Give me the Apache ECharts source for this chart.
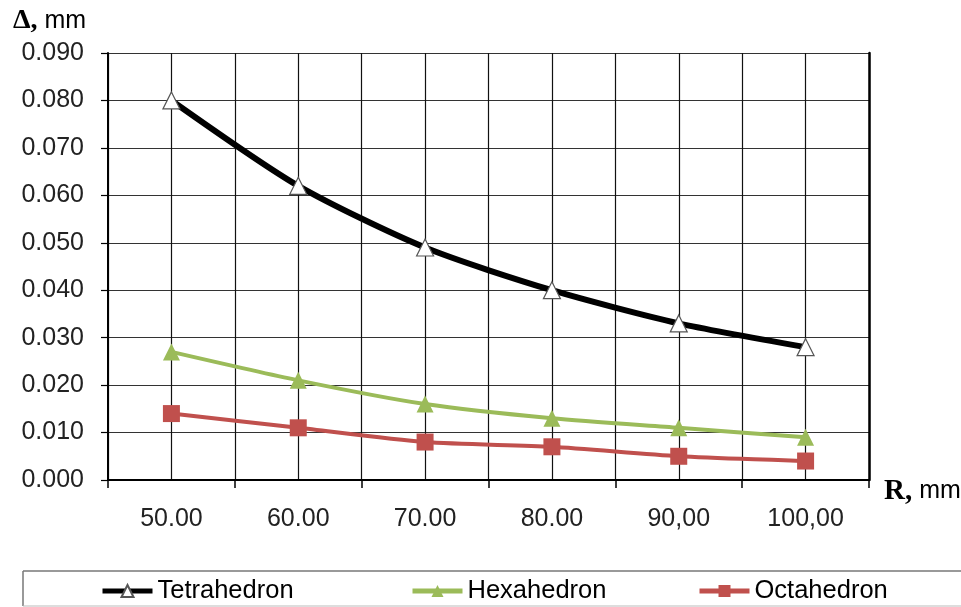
<!DOCTYPE html>
<html>
<head>
<meta charset="utf-8">
<script src="https://cdn.jsdelivr.net/npm/echarts@6/dist/echarts.min.js"></script>
<style>
html,body{margin:0;padding:0;background:#fff;}
#c{width:961px;height:607px;}
</style>
</head>
<body>
<div id="c"></div>
<script>
const categories = ["50.00", "60.00", "70.00", "80.00", "90,00", "100,00"];
const tetrahedron = [0.080, 0.062, 0.049, 0.040, 0.033, 0.028];
const hexahedron = [0.027, 0.021, 0.016, 0.013, 0.011, 0.009];
const octahedron = [0.014, 0.011, 0.008, 0.007, 0.005, 0.004];
const yTicks = {min: 0, max: 0.09, interval: 0.01};

const SANS = "'Liberation Sans', Arial, sans-serif";
const SERIF = "'Liberation Serif', 'Times New Roman', serif";

const chart = echarts.init(document.getElementById('c'), null, {renderer: 'canvas'});

function legendCfg(name, left, lw) {
  return {
    data: [{name: name, lineStyle: {width: lw}}], left: left, top: 578, orient: 'horizontal',
    itemWidth: 50, itemHeight: 15, itemGap: 0, padding: 0,
    textStyle: {fontFamily: SANS, fontSize: 25.5, color: '#000'}
  };
}

chart.setOption({
  animation: false,
  backgroundColor: '#fff',
  grid: {left: 108, right: 92, top: 53, bottom: 127, containLabel: false},
  title: {
    left: 8, top: 2,
    text: '{a|Δ,}{b| mm}',
    textStyle: {
      fontWeight: 'normal',
      rich: {
        a: {fontFamily: SERIF, fontWeight: 'bold', fontSize: 28, color: '#000'},
        b: {fontFamily: SANS, fontWeight: 'normal', fontSize: 25, color: '#000'}
      }
    }
  },
  legend: [legendCfg('Tetrahedron', 100, 5), legendCfg('Hexahedron', 410, 5), legendCfg('Octahedron', 697, 5)],
  graphic: [
    {type: 'line', shape: {x1: 23, y1: 571, x2: 961, y2: 571}, style: {stroke: '#777', lineWidth: 1.5}},
    {type: 'line', shape: {x1: 23, y1: 571, x2: 23, y2: 606}, style: {stroke: '#777', lineWidth: 1.5}},
    {type: 'line', shape: {x1: 23, y1: 606, x2: 961, y2: 606}, style: {stroke: '#bbb', lineWidth: 1}},
    {
      type: 'text', left: 884, top: 477,
      style: {
        text: '{a|R,}{b| mm}',
        rich: {
          a: {fontFamily: SERIF, fontWeight: 'bold', fontSize: 29, fill: '#000'},
          b: {fontFamily: SANS, fontSize: 25, fill: '#000'}
        }
      }
    }
  ],
  xAxis: [
    {
      type: 'category', data: categories, boundaryGap: true, position: 'bottom',
      axisLine: {show: true, lineStyle: {color: '#000', width: 2}},
      axisTick: {show: true, length: 8, lineStyle: {color: '#000', width: 1.5}},
      axisLabel: {fontFamily: SANS, fontSize: 25, color: '#222', margin: 27},
      splitLine: {show: false}
    },
    {
      type: 'value', min: 0, max: 12, interval: 1, position: 'top',
      axisLine: {show: false}, axisTick: {show: false}, axisLabel: {show: false},
      splitLine: {show: true, lineStyle: {color: '#111', width: 1.2}}
    }
  ],
  yAxis: [
    {
      type: 'value', min: yTicks.min, max: yTicks.max, interval: yTicks.interval,
      axisLine: {show: true, lineStyle: {color: '#000', width: 2}},
      axisTick: {show: true, length: 7, lineStyle: {color: '#000', width: 1.2}},
      axisLabel: {fontFamily: SANS, fontSize: 25, color: '#222', margin: 24,
        formatter: v => v.toFixed(3)},
      splitLine: {show: true, lineStyle: {color: '#333', width: 1.2}}
    },
    {
      type: 'value', min: yTicks.min, max: yTicks.max, interval: yTicks.interval, position: 'right',
      axisLine: {show: true, lineStyle: {color: '#000', width: 2.5}},
      axisTick: {show: false}, axisLabel: {show: false}, splitLine: {show: false}
    }
  ],
  series: [
    {
      name: 'Tetrahedron', type: 'line', data: tetrahedron, smooth: 0.25,
      symbol: 'triangle', symbolSize: 17,
      lineStyle: {color: '#000', width: 6},
      itemStyle: {color: '#fff', borderColor: '#555', borderWidth: 1.2},
      z: 5
    },
    {
      name: 'Hexahedron', type: 'line', data: hexahedron, smooth: 0.25,
      symbol: 'triangle', symbolSize: 17,
      lineStyle: {color: '#9BBB59', width: 4},
      itemStyle: {color: '#9BBB59', borderColor: '#9BBB59', borderWidth: 0},
      z: 4
    },
    {
      name: 'Octahedron', type: 'line', data: octahedron, smooth: 0.25,
      symbol: 'rect', symbolSize: 17,
      lineStyle: {color: '#C0504D', width: 4},
      itemStyle: {color: '#C0504D', borderColor: '#C0504D', borderWidth: 0},
      z: 3
    }
  ]
});
</script>
</body>
</html>
